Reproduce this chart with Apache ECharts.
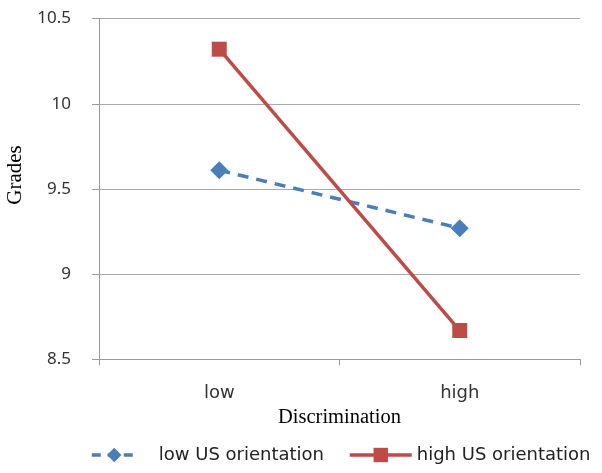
<!DOCTYPE html>
<html><head><meta charset="utf-8">
<script src="https://cdn.jsdelivr.net/npm/echarts@6/dist/echarts.min.js"></script>
<style>html,body{margin:0;padding:0;background:#fff}#c{width:602px;height:473px}</style>
</head><body><div id="c"></div>
<script>
const categories = ['low', 'high'];
const lowUS = [9.61, 9.27];
const highUS = [10.32, 8.67];
const yTicks = [8.5, 9, 9.5, 10, 10.5];
const seriesNames = ['low US orientation', 'high US orientation'];

const legendText = {fontFamily: 'DejaVu Sans', fontSize: 18, color: '#222'};
const chart = echarts.init(document.getElementById('c'));
chart.setOption({
  animation: false,
  backgroundColor: '#fff',
  grid: {left: 99, right: 22, top: 18.5, bottom: 113.5, containLabel: false, outerBoundsMode: 'none'},
  legend: [
    {left: 85, top: 441, itemWidth: 45, itemHeight: 18, data: [seriesNames[0]],
     lineStyle: {width: 3.5, type: [9, 7]},
     textStyle: Object.assign({padding: [0, 0, 0, 17]}, legendText)},
    {left: 343, top: 441, itemWidth: 62, itemHeight: 18, data: [seriesNames[1]],
     lineStyle: {width: 3.5},
     textStyle: Object.assign({padding: [0, 0, 0, 0]}, legendText)}
  ],
  xAxis: {
    type: 'category', data: categories, boundaryGap: true,
    name: 'Discrimination', nameLocation: 'middle', nameGap: 46,
    nameTextStyle: {fontFamily: 'Liberation Serif', fontSize: 20.5, color: '#000'},
    axisLine: {lineStyle: {color: '#999', width: 1}},
    axisTick: {show: true, length: 6, lineStyle: {color: '#999'}},
    axisLabel: {margin: 25, fontFamily: 'DejaVu Sans', fontSize: 18, color: '#333'}
  },
  yAxis: {
    type: 'value', min: 8.5, max: 10.5, interval: 0.5,
    name: 'Grades', nameLocation: 'middle', nameGap: 72, nameRotate: 90,
    nameTextStyle: {fontFamily: 'Liberation Serif', fontSize: 21, color: '#000', padding: [0, 0, 0, 28]},
    axisLine: {show: true, lineStyle: {color: '#999', width: 1}},
    axisTick: {show: true, length: 7, inside: false, lineStyle: {color: '#999'}},
    splitLine: {lineStyle: {color: '#aaa', width: 1}},
    axisLabel: {margin: 28, fontFamily: 'Noto Sans', fontSize: 17, color: '#333',
      formatter: v => yTicks.includes(v) ? String(v) : ''}
  },
  series: [
    {name: seriesNames[0], type: 'line', data: lowUS,
     symbol: 'diamond', symbolSize: 18,
     itemStyle: {color: '#4a7ebb'},
     lineStyle: {color: '#4a7ebb', width: 3.5, type: [11, 8]}},
    {name: seriesNames[1], type: 'line', data: highUS,
     symbol: 'rect', symbolSize: 15,
     itemStyle: {color: '#be4b48'},
     lineStyle: {color: '#be4b48', width: 3.5}}
  ]
});
</script></body></html>
